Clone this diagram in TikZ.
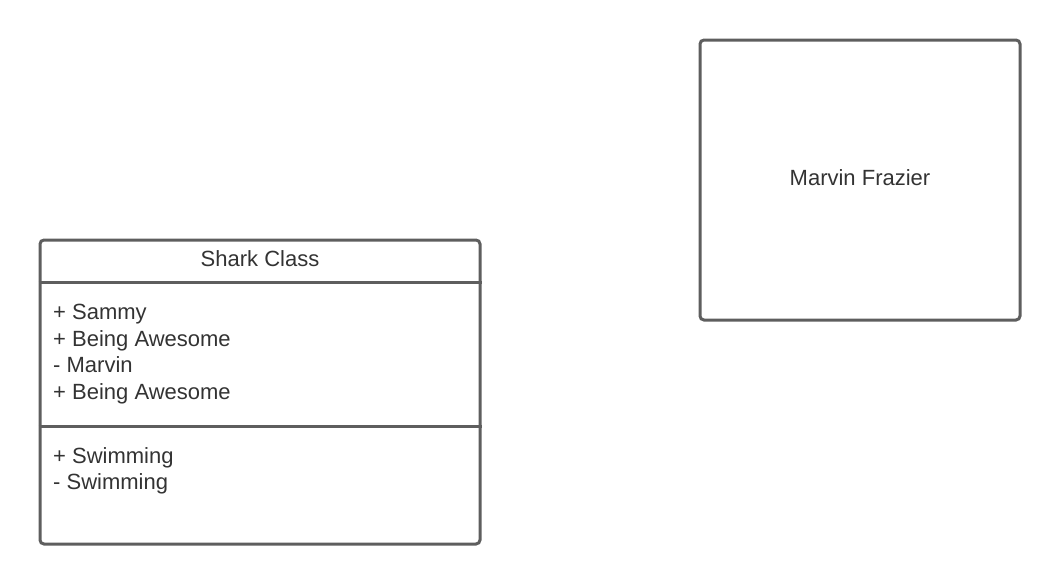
\documentclass[tikz,border=0pt]{standalone}
\usepackage{fontspec}
\setmainfont{Liberation Sans}
\usetikzlibrary{positioning}
\definecolor{linegray}{HTML}{5E5E5E}
\definecolor{textgray}{HTML}{333333}

\begin{document}
\begin{tikzpicture}[x=1pt, y=-1pt, font=\fontsize{22}{26.7}\selectfont, text=textgray,
    umlbox/.style={draw=linegray, line width=3pt, rounded corners=4pt, inner sep=0pt},
    divider/.style={draw=linegray, line width=3pt},
    members/.style={anchor=north west, align=left, inner sep=0pt}]
        \useasboundingbox (0,0) rectangle (1060,584);
        % class box
        \node[umlbox, minimum width=440pt, minimum height=304pt] (shark) at (260,392) {};
        \coordinate (hdrline) at (0,282);
        \coordinate (opsline) at (0,426);
        \draw[divider] (shark.west |- hdrline) -- (shark.east |- hdrline);
        \draw[divider] (shark.west |- opsline) -- (shark.east |- opsline);
        \node (sharkname) at (260,259) {Shark Class};
        \node[members] (attrs) at (53,304) {+ Sammy\\ + Being Awesome\\ - Marvin\\ + Being Awesome};
        \node[members] (ops) at (53,447) {+ Swimming\\ - Swimming};
        % plain box
        \node[umlbox, minimum width=320pt, minimum height=280pt] (marvin) at (860,180) {};
        \node (marvinname) at ([yshift=2pt]marvin.center) {Marvin Frazier};
      \end{tikzpicture}
\end{document}
